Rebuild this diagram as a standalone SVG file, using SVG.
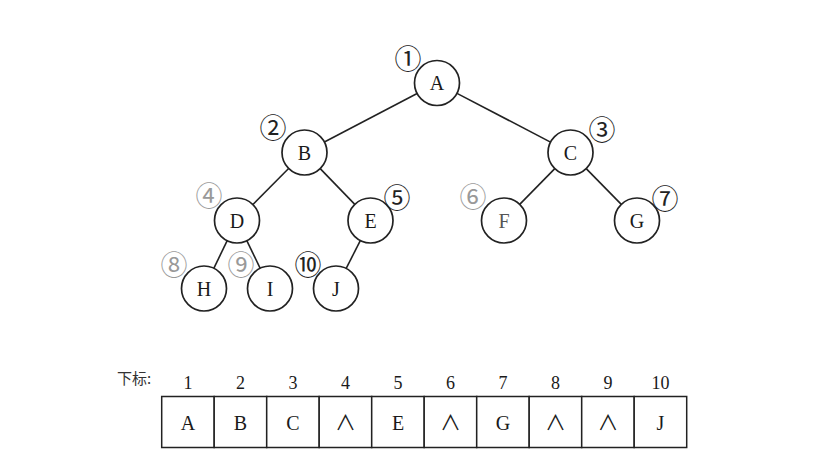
<svg xmlns="http://www.w3.org/2000/svg" width="832" height="474" viewBox="0 0 832 474">
<style>
.node circle{fill:#fff;stroke:#222;stroke-width:1.7}
.node text{font-family:"Liberation Serif",serif;font-size:20px;fill:#1a1a1a;text-anchor:middle;dominant-baseline:central}
.edges line{stroke:#222;stroke-width:1.6}
.node text.num{font-family:"Noto Sans CJK SC",sans-serif;font-size:27px;fill:#222;text-anchor:middle;dominant-baseline:central}
.node text.num.light{fill:#999}
.cell{fill:#fff;stroke:#222;stroke-width:1.5}
.val{font-family:"Liberation Serif",serif;font-size:20px;fill:#1a1a1a;text-anchor:middle}
.nil{font-family:"Noto Sans CJK SC",sans-serif;font-size:21px;fill:#1a1a1a;text-anchor:middle}
.idx{font-family:"Liberation Serif",serif;font-size:18px;fill:#1a1a1a;text-anchor:middle}
.lab{font-family:"Noto Sans CJK SC",sans-serif;font-size:15px;fill:#333}
</style>
<rect width="832" height="474" fill="#fff"/>
<g class="edges">
<line x1="417.1" y1="93.5" x2="324.4" y2="142"/>
<line x1="457" y1="93.4" x2="550.5" y2="142.1"/>
<line x1="288.6" y1="168.5" x2="252.9" y2="204.5"/>
<line x1="320.2" y1="168.6" x2="354.8" y2="204.4"/>
<line x1="554.8" y1="168.6" x2="519.7" y2="204.4"/>
<line x1="586.2" y1="168.6" x2="621.3" y2="204.4"/>
<line x1="227.2" y1="240.7" x2="213.8" y2="268.3"/>
<line x1="246.8" y1="240.7" x2="260.2" y2="268.3"/>
<line x1="360.3" y1="240.6" x2="346.2" y2="268.4"/>
</g>
<g id="nA" class="node"><circle cx="437" cy="83" r="22.5"/><text x="437" y="83">A</text><text class="num" x="408" y="57">①</text></g>
<g id="nB" class="node"><circle cx="304.5" cy="152.5" r="22.5"/><text x="304.5" y="152.5">B</text><text class="num" x="273" y="126">②</text></g>
<g id="nC" class="node"><circle cx="570.5" cy="152.5" r="22.5"/><text x="570.5" y="152.5">C</text><text class="num" x="602" y="128">③</text></g>
<g id="nD" class="node"><circle cx="237" cy="220.5" r="22.5"/><text x="237" y="220.5">D</text><text class="num light" x="209" y="194">④</text></g>
<g id="nE" class="node"><circle cx="370.5" cy="220.5" r="22.5"/><text x="370.5" y="220.5">E</text><text class="num" x="397" y="196">⑤</text></g>
<g id="nF" class="node"><circle cx="504" cy="220.5" r="22.5"/><text x="504" y="220.5" style="fill:#555">F</text><text class="num light" x="473" y="195">⑥</text></g>
<g id="nG" class="node"><circle cx="637" cy="220.5" r="22.5"/><text x="637" y="220.5">G</text><text class="num" x="665" y="197">⑦</text></g>
<g id="nH" class="node"><circle cx="204" cy="288.5" r="22.5"/><text x="204" y="288.5">H</text><text class="num light" x="174" y="263">⑧</text></g>
<g id="nI" class="node"><circle cx="270" cy="288.5" r="22.5"/><text x="270" y="288.5">I</text><text class="num light" x="241" y="263">⑨</text></g>
<g id="nJ" class="node"><circle cx="336" cy="288.5" r="22.5"/><text x="336" y="288.5">J</text><text class="num" x="308" y="263">⑩</text></g>
<g id="array">
<text class="lab" x="117" y="384">下标:</text>
<g class="idx-row">
<text class="idx" x="188" y="389">1</text>
<text class="idx" x="240.5" y="389">2</text>
<text class="idx" x="293" y="389">3</text>
<text class="idx" x="345.5" y="389">4</text>
<text class="idx" x="398" y="389">5</text>
<text class="idx" x="450.5" y="389">6</text>
<text class="idx" x="503" y="389">7</text>
<text class="idx" x="555.5" y="389">8</text>
<text class="idx" x="608" y="389">9</text>
<text class="idx" x="660.5" y="389">10</text>
</g>
<rect class="cell" x="161.7" y="396.5" width="52.5" height="51"/>
<rect class="cell" x="214.2" y="396.5" width="52.5" height="51"/>
<rect class="cell" x="266.7" y="396.5" width="52.5" height="51"/>
<rect class="cell" x="319.2" y="396.5" width="52.5" height="51"/>
<rect class="cell" x="371.7" y="396.5" width="52.5" height="51"/>
<rect class="cell" x="424.2" y="396.5" width="52.5" height="51"/>
<rect class="cell" x="476.7" y="396.5" width="52.5" height="51"/>
<rect class="cell" x="529.2" y="396.5" width="52.5" height="51"/>
<rect class="cell" x="581.7" y="396.5" width="52.5" height="51"/>
<rect class="cell" x="634.2" y="396.5" width="52.5" height="51"/>
<text class="val" x="188" y="430">A</text>
<text class="val" x="240.5" y="430">B</text>
<text class="val" x="293" y="430">C</text>
<text class="nil" x="345.5" y="430">∧</text>
<text class="val" x="398" y="430">E</text>
<text class="nil" x="450.5" y="430">∧</text>
<text class="val" x="503" y="430">G</text>
<text class="nil" x="555.5" y="430">∧</text>
<text class="nil" x="608" y="430">∧</text>
<text class="val" x="660.5" y="430">J</text>
</g>
</svg>
